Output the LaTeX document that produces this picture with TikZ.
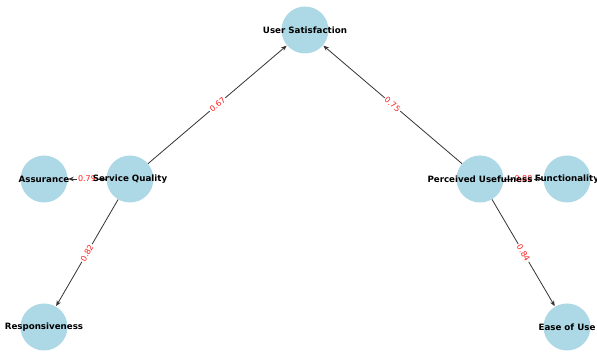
\documentclass[tikz,border=0pt]{standalone}
\usepackage{fontspec}
\setmainfont{DejaVu Sans}
\usetikzlibrary{arrows.meta}
\definecolor{nodeblue}{HTML}{ADD8E6}
\definecolor{edgegray}{HTML}{333333}
\definecolor{lblred}{HTML}{FF2020}
\tikzset{
  circ/.style={circle, fill=nodeblue, minimum size=47pt, inner sep=0pt},
  ntext/.style={font=\fontsize{8.7}{10}\selectfont\bfseries, inner sep=0pt},
  conn/.style={draw=edgegray, line width=0.8pt, -{Stealth[length=5.5pt,width=4.5pt]}, shorten >=0.5pt},
  elabel/.style={font=\fontsize{8}{9}\selectfont, text=lblred, fill=white, inner sep=1.2pt, sloped, midway}
}
\begin{document}
\begin{tikzpicture}[x=1pt,y=1pt]
\useasboundingbox (0,0) rectangle (597,352);
% circles
\node[circ] (us) at (305,322) {};
\node[circ] (sq) at (130,173) {};
\node[circ] (pu) at (480,173) {};
\node[circ] (as) at (44,173) {};
\node[circ] (fu) at (567,173) {};
\node[circ] (re) at (44,25) {};
\node[circ] (eu) at (567,25) {};
% connectors
\draw[conn] (sq) -- node[elabel] (l1) {0.67} (us);
\draw[conn] (pu) -- node[elabel] (l2) {0.75} (us);
\draw[conn] (sq) -- node[elabel] (l3) {0.79} (as);
\draw[conn] (sq) -- node[elabel] (l4) {0.82} (re);
\draw[conn] (pu) -- node[elabel] (l5) {0.88} (fu);
\draw[conn] (pu) -- node[elabel] (l6) {0.84} (eu);
% node texts
\node[ntext] (ust) at (us) {User Satisfaction};
\node[ntext] (sqt) at (sq) {Service Quality};
\node[ntext] (put) at (pu) {Perceived Usefulness};
\node[ntext] (ast) at (as) {Assurance};
\node[ntext] (fut) at (fu) {Functionality};
\node[ntext] (ret) at (re) {Responsiveness};
\node[ntext] (eut) at (eu) {Ease of Use};
\end{tikzpicture}
\end{document}
